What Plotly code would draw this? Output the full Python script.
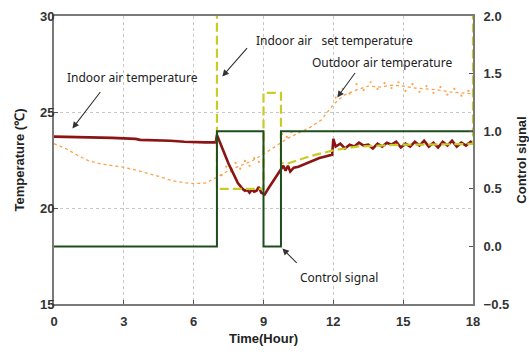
import plotly.graph_objects as go

# ---------------- data ----------------
indoor_t = [0, 1, 2, 2.5, 3.5, 3.7, 5.0, 5.6, 6.5, 6.95, 7.0, 7.1, 7.3, 7.5, 7.7, 7.9, 8.1,
            8.2, 8.3, 8.4, 8.5, 8.6, 8.7, 8.8, 8.9, 9.0, 9.05, 9.2, 9.4, 9.6, 9.75, 9.85,
            9.95, 10.05, 10.15, 10.3, 10.5, 10.8, 11.1, 11.4, 11.7, 11.95, 12.0,
            12.1, 12.3, 12.5, 12.7, 12.9, 13.1, 13.3, 13.5, 13.7, 13.9, 14.1, 14.3, 14.5,
            14.7, 14.9, 15.1, 15.3, 15.5, 15.7, 15.9, 16.1, 16.3, 16.5, 16.7, 16.9, 17.1,
            17.3, 17.5, 17.7, 17.9, 18.0]
indoor_v = [23.72, 23.70, 23.66, 23.65, 23.60, 23.55, 23.50, 23.45, 23.42, 23.42, 23.80, 23.50,
            22.85, 22.30, 21.80, 21.30, 21.00, 20.90, 20.95, 20.80, 20.95, 20.85, 20.90, 21.10,
            20.80, 20.75, 20.70, 21.00, 21.35, 21.70, 22.00, 22.20, 21.95, 22.20, 21.90, 22.10,
            22.15, 22.30, 22.45, 22.60, 22.70, 22.78, 23.60,
            23.20, 23.35, 23.10, 23.30, 23.20, 23.40, 23.25, 23.30, 23.10, 23.35, 23.20, 23.40,
            23.30, 23.45, 23.15, 23.35, 23.20, 23.45, 23.25, 23.50, 23.20, 23.40, 23.15, 23.45,
            23.25, 23.50, 23.20, 23.40, 23.25, 23.45, 23.40]

set_t = [0, 7, 7, 9, 9, 9.75, 9.75, 10.0, 10.5, 11.0, 11.5, 12.0, 12.5, 13.0, 14.0, 15.0,
         16.0, 17.0, 18.0, 18.0]
set_v = [32, 32, 21.0, 21.0, 26.0, 26.0, 22.35, 22.30, 22.50, 22.70, 22.85, 23.00, 23.10,
         23.20, 23.25, 23.30, 23.30, 23.32, 23.34, 32]

outdoor_t = [0, 0.5, 1.0, 1.5, 2.0, 2.5, 3.0, 3.5, 4.0, 4.5, 5.0, 5.5, 6.0, 6.5, 7.0, 7.5,
             8.0, 8.5, 9.0, 9.5, 10.0, 10.5, 11.0, 11.5, 12.0, 12.5, 13.0, 13.5, 14.0, 14.5,
             15.0, 15.5, 16.0, 16.5, 17.0, 17.5, 18.0]
outdoor_v = [23.35, 23.10, 22.75, 22.45, 22.30, 22.22, 22.12, 21.98, 21.82, 21.65, 21.45,
             21.33, 21.27, 21.30, 21.60, 21.95, 22.20, 22.45, 22.80, 23.20, 23.60, 23.90,
             24.20, 24.60, 25.40, 25.90, 26.15, 26.35, 26.30, 26.40, 26.35, 26.25, 26.20,
             26.15, 26.05, 26.00, 25.95]
outdoor_band_t = [7.0, 7.2, 7.4, 7.6, 7.8, 8.0, 8.2, 8.4, 8.6, 8.8, 9.8, 10.0, 10.2,
                  12.1, 12.4, 12.7, 13.0, 13.3, 13.6, 13.9, 14.2, 14.5, 14.8, 15.1, 15.4,
                  15.7, 16.0, 16.3, 16.6, 16.9, 17.2, 17.5, 17.8]
outdoor_band_v = [21.95, 21.70, 22.15, 21.90, 22.35, 22.05, 22.45, 22.20, 22.60, 22.40,
                  23.85, 23.70, 23.95,
                  25.75, 26.20, 25.95, 26.45, 26.15, 26.55, 26.20, 26.50, 26.25, 26.55,
                  26.10, 26.45, 26.05, 26.35, 26.00, 26.30, 25.90, 26.20, 25.85, 26.10]

control_t = [0, 7, 9, 9.75, 18]
control_v = [0, 1, 0, 1, 1]

x_ticks = [0, 3, 6, 9, 12, 15, 18]
y_ticks = [15, 20, 25, 30]
y2_ticks = [-0.5, 0.0, 0.5, 1.0, 1.5, 2.0]

# ---------------- figure ----------------
fig = go.Figure()

fig.add_trace(go.Scatter(x=outdoor_t, y=outdoor_v, mode="lines",
                         line=dict(color="#ffa04a", width=1.3, dash="dot"), showlegend=False))
fig.add_trace(go.Scatter(x=outdoor_band_t, y=outdoor_band_v, mode="markers",
                         marker=dict(color="#ffa04a", size=2.2), showlegend=False))
fig.add_trace(go.Scatter(x=control_t, y=control_v, mode="lines", yaxis="y2",
                         line=dict(color="#1e4d1e", width=2, shape="hv"), showlegend=False))
fig.add_trace(go.Scatter(x=indoor_t, y=indoor_v, mode="lines",
                         line=dict(color="#8b1414", width=2.6), showlegend=False))
fig.add_trace(go.Scatter(x=set_t, y=set_v, mode="lines",
                         line=dict(color="#c8cc28", width=2.2, dash="9px,4px"), showlegend=False))

tickfont = dict(family="Liberation Sans", size=13, color="#333333", weight="bold")
titlefont = dict(family="Liberation Sans", size=13, color="#222222", weight="bold")

fig.update_layout(
    width=529, height=352,
    margin=dict(l=54, r=56, t=16, b=48, autoexpand=False),
    paper_bgcolor="white", plot_bgcolor="white",
    xaxis=dict(range=[0, 18], tickvals=x_ticks, showline=True, linecolor="#7a7a7a",
               linewidth=2, mirror=True, ticks="inside", ticklen=4, tickcolor="#555",
               showgrid=True, gridcolor="#c8c8c8", griddash="dot", gridwidth=1,
               zeroline=False, tickfont=tickfont, ticklabelstandoff=4, automargin=False,
               title=dict(text="Time(Hour)", font=titlefont, standoff=6)),
    yaxis=dict(range=[15, 30], tickvals=y_ticks, showline=True, linecolor="#7a7a7a",
               linewidth=2, ticks="inside", ticklen=4, tickcolor="#555",
               showgrid=True, gridcolor="#c8c8c8", griddash="dot", gridwidth=1,
               zeroline=False, tickfont=tickfont, ticklabelstandoff=-5, automargin=False,
               title=dict(text="Temperature (℃)", font=titlefont, standoff=12)),
    yaxis2=dict(range=[-0.5, 2.0], tickvals=y2_ticks, tickformat=".1f", overlaying="y",
                side="right", showline=True, linecolor="#7a7a7a", linewidth=2,
                ticks="inside", ticklen=4, tickcolor="#555", showgrid=False,
                zeroline=False, tickfont=tickfont, ticklabelstandoff=6, automargin=False,
                title=dict(text="Control signal", font=titlefont, standoff=12)),
)

annfont = dict(family="Noto Sans", size=12, color="#222222")
texts = [
    ("Indoor air temperature", 3.37, 26.8),
    ("Indoor air   set temperature", 12.06, 28.75),
    ("Outdoor air temperature", 14.08, 27.6),
    ("Control signal", 12.25, 16.38),
]
for txt, x, y in texts:
    fig.add_annotation(x=x, y=y, text=txt, showarrow=False, font=annfont, xref="x", yref="y")

arrows = [
    (0.79, 24.14, 2.04, 26.12),
    (7.23, 26.85, 8.35, 28.41),
    (12.17, 25.76, 12.98, 27.11),
    (9.81, 17.89, 10.49, 17.06),
]
for hx, hy, tx, ty in arrows:
    fig.add_annotation(x=hx, y=hy, ax=tx, ay=ty, xref="x", yref="y", axref="x", ayref="y",
                       text="", showarrow=True, arrowhead=2, arrowsize=1.2, arrowwidth=1.1,
                       arrowcolor="#333333")

fig.write_html("out.html")
